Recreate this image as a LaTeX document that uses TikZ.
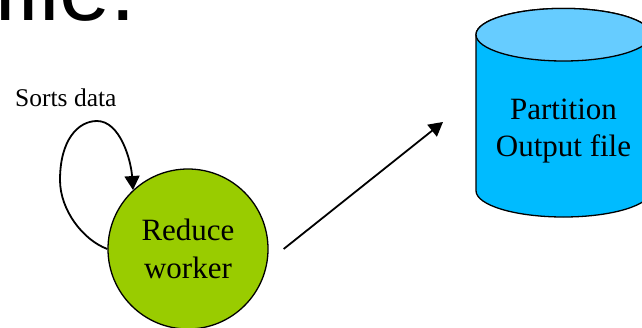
\documentclass[tikz,border=0pt]{standalone}
\usepackage{fontspec}
\setmainfont{Liberation Serif}
\newfontfamily\headfont{Liberation Sans}
\usetikzlibrary{arrows.meta}
\definecolor{workergreen}{RGB}{153,204,0}
\definecolor{canbody}{RGB}{0,187,255}
\definecolor{cantop}{RGB}{102,204,255}
\tikzset{
  flow/.style={line width=1.8pt, -{Triangle[length=14pt,width=15pt]}},
  worker/.style={circle, draw, line width=1.3pt, fill=workergreen, minimum size=160pt,
    inner sep=0pt, align=center, font=\fontsize{31}{37.3}\selectfont},
  cantext/.style={align=center, inner sep=0pt, font=\fontsize{31}{37.3}\selectfont},
  note/.style={anchor=base west, inner sep=0pt, font=\fontsize{25.5}{30}\selectfont},
  heading/.style={anchor=base west, inner sep=0pt, font=\headfont\fontsize{92}{110}\selectfont},
  canline/.style={line width=1.3pt}
}
\begin{document}
\begin{tikzpicture}[x=1pt,y=-1pt]
\useasboundingbox (0,0) rectangle (642,327);
\clip (0,0) rectangle (642,327);
\fill[white] (0,0) rectangle (642,327);

% slide heading, cut at the top edge
\node[heading] (title) at (-7,20.5) {file.};

% storage cylinder
\filldraw[canline, fill=canbody] (476,34.7) -- (476,190.7)
  arc[start angle=180, end angle=0, x radius=87.5, y radius=26.3]
  -- (651,34.7)
  arc[start angle=0, end angle=-180, x radius=87.5, y radius=26.3] -- cycle;
\filldraw[canline, fill=cantop] (563.5,34.7) ellipse[x radius=87.5, y radius=26.3];
\node[cantext] (part) at (563.5,130.9) {Partition\\Output file};

% reduce worker and its self loop
\node[worker] (rw) at (188,249) {Reduce\\worker};
\node[note] (sorts) at (15,106.7) {Sorts data};
\draw[flow] (rw.west) .. controls (83,240) and (60,210) .. (60,180)
  .. controls (60,140) and (78,121) .. (97,121)
  .. controls (120,121) and (131,160) .. (rw.133);

% output arrow towards the file
\coordinate (rwout) at ([xshift=15pt]rw.east);
\coordinate (partin) at (443,122);
\draw[flow] (rwout) -- (partin);
\end{tikzpicture}
\end{document}
